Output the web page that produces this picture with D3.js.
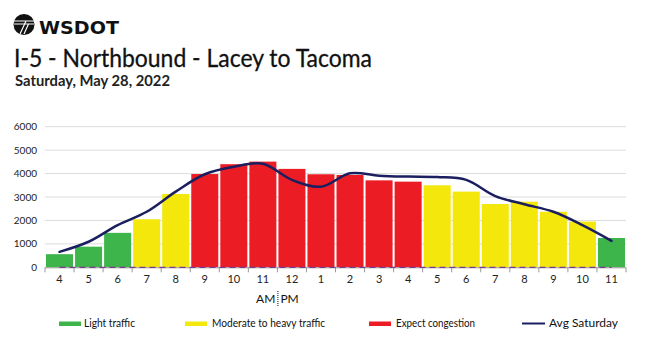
<!DOCTYPE html>
<html><head><meta charset="utf-8">
<script src="https://cdn.jsdelivr.net/npm/d3@7"></script>
<style>body{margin:0;background:#fff}svg{display:block}</style>
</head><body>
<svg id="c" width="650" height="338"></svg>
<script>
const hours = ["4","5","6","7","8","9","10","11","12","1","2","3","4","5","6","7","8","9","10","11"];
const volumes = [560,880,1470,2050,3130,3980,4400,4510,4200,3970,3940,3710,3655,3500,3230,2700,2800,2370,1950,1250];
const levels = ["light","light","light","moderate","moderate","congest","congest","congest","congest","congest","congest","congest","congest","moderate","moderate","moderate","moderate","moderate","moderate","light"];
const avgSaturday = [660,1090,1800,2370,3230,3970,4290,4420,3730,3440,4010,3910,3870,3850,3730,3040,2690,2370,1800,1130];
const yTicks = [0,1000,2000,3000,4000,5000,6000];
const legendLabels = ["Light traffic","Moderate to heavy traffic","Expect congestion","Avg Saturday"];

const colors = {light:"#3db54a", moderate:"#f3e70c", congest:"#ec1c24", avg:"#1b1f60"};
const svg = d3.select("#c");
const L = 45, R = 626, T = 126.7, B = 267.3;
const idx = d3.range(hours.length);
const x = d3.scaleBand().domain(idx).range([L, R]).paddingInner(0.07).paddingOuter(0.035);
const xb = d3.scaleBand().domain(idx).range([L, R]);
const y = d3.scaleLinear().domain([0, 6000]).range([B, T]);

// logo
const lg = svg.append("g");
lg.append("circle").attr("cx", 24).attr("cy", 24.5).attr("r", 10.5).attr("fill", "#111");
lg.append("path").attr("d", "M14 21 H34 M14 24 H34").attr("stroke", "#fff").attr("stroke-width", 1.2);
lg.append("path").attr("d", "M26 21 L20 34 M28.5 24 L24 34").attr("stroke", "#fff").attr("stroke-width", 1.2).attr("fill","none");
svg.append("text").attr("x", 39).attr("y", 33.5).attr("font-family", "DejaVu Sans").attr("font-weight", "900")
  .attr("font-size", 18.5).attr("textLength", 80).attr("lengthAdjust", "spacingAndGlyphs").attr("fill", "#111").text("WSDOT");

svg.append("text").attr("x", 14).attr("y", 66.5).attr("font-family", "Lato").attr("font-size", 24.5)
  .attr("fill", "#111").attr("stroke", "#111").attr("stroke-width", 0.3)
  .attr("textLength", 358).attr("lengthAdjust","spacingAndGlyphs").text("I-5 - Northbound - Lacey to Tacoma");
svg.append("text").attr("x", 15).attr("y", 86).attr("font-family", "Lato").attr("font-weight", "bold").attr("font-size", 14.5)
  .attr("fill", "#222").attr("textLength", 155).attr("lengthAdjust","spacingAndGlyphs").text("Saturday, May 28, 2022");

// grid
svg.append("g").selectAll("line").data(yTicks.filter(d => d > 0)).join("line")
  .attr("x1", L).attr("x2", R).attr("y1", d => y(d)).attr("y2", d => y(d))
  .attr("stroke", "#dcdcdc").attr("stroke-width", 1);
// y labels
svg.append("g").selectAll("text").data(yTicks).join("text")
  .attr("x", 37).attr("y", d => y(d) + 3.5).attr("text-anchor", "end")
  .attr("font-family", "Lato").attr("font-size", 10).attr("fill", "#222").text(d => d);

// bars
svg.append("g").selectAll("rect").data(idx).join("rect")
  .attr("x", i => x(i)).attr("width", x.bandwidth())
  .attr("y", i => y(volumes[i])).attr("height", i => B - y(volumes[i]))
  .attr("fill", i => colors[levels[i]]);

// x axis
const ax = svg.append("g");
ax.append("line").attr("x1", L).attr("x2", R).attr("y1", B + 0.5).attr("y2", B + 0.5).attr("stroke", "#999");
ax.selectAll("line.t").data(d3.range(hours.length + 1)).join("line").attr("class", "t")
  .attr("x1", i => L + i * xb.step()).attr("x2", i => L + i * xb.step())
  .attr("y1", B).attr("y2", B + 5).attr("stroke", "#999");
ax.selectAll("text").data(idx).join("text")
  .attr("x", i => xb(i) + xb.bandwidth() / 2).attr("y", 283).attr("text-anchor", "middle")
  .attr("font-family", "Lato").attr("font-size", 11).attr("fill", "#222").text(i => hours[i]);

// baseline dashed series
svg.append("line").attr("x1", x(0) + x.bandwidth()/2).attr("x2", x(hours.length-1) + x.bandwidth()/2)
  .attr("y1", B).attr("y2", B).attr("stroke", "#7a3b8f").attr("stroke-width", 1.2).attr("stroke-dasharray", "6,4");

// avg line
const line = d3.line().x(i => xb(i) + xb.bandwidth() / 2).y(i => y(avgSaturday[i])).curve(d3.curveCatmullRom.alpha(0.5));
svg.append("path").datum(idx).attr("d", line).attr("fill", "none").attr("stroke", colors.avg).attr("stroke-width", 2.5).attr("stroke-linecap","round");

// AM | PM
const split = L + 8 * xb.step();
svg.append("text").attr("x", split - 2).attr("y", 303).attr("text-anchor", "end").attr("font-family", "Lato").attr("font-size", 12).attr("fill", "#111").text("AM");
svg.append("text").attr("x", split + 3).attr("y", 303).attr("font-family", "Lato").attr("font-size", 12).attr("fill", "#111").text("PM");
svg.append("line").attr("x1", split + 0.5).attr("x2", split + 0.5).attr("y1", 291).attr("y2", 306).attr("stroke", "#111").attr("stroke-dasharray", "1,1");

// legend
const leg = [
  {sx: 59, tx: 84, tw: 51, k: "light"},
  {sx: 185, tx: 212, tw: 113, k: "moderate"},
  {sx: 369, tx: 396, tw: 79, k: "congest"},
  {sx: 522, tx: 549, tw: 69, k: "avg"}
];
const lgG = svg.append("g");
leg.forEach((d, i) => {
  if (d.k === "avg") {
    lgG.append("line").attr("x1", d.sx).attr("x2", d.sx + 23).attr("y1", 323.5).attr("y2", 323.5).attr("stroke", colors.avg).attr("stroke-width", 2);
  } else {
    lgG.append("rect").attr("x", d.sx).attr("y", 321.5).attr("width", 22).attr("height", 4.5).attr("fill", colors[d.k]);
  }
  lgG.append("text").attr("x", d.tx).attr("y", 327).attr("font-family", "Lato").attr("font-size", 10.5)
    .attr("textLength", d.tw).attr("lengthAdjust", "spacingAndGlyphs").attr("fill", "#111").text(legendLabels[i]);
});
</script>
</body></html>
